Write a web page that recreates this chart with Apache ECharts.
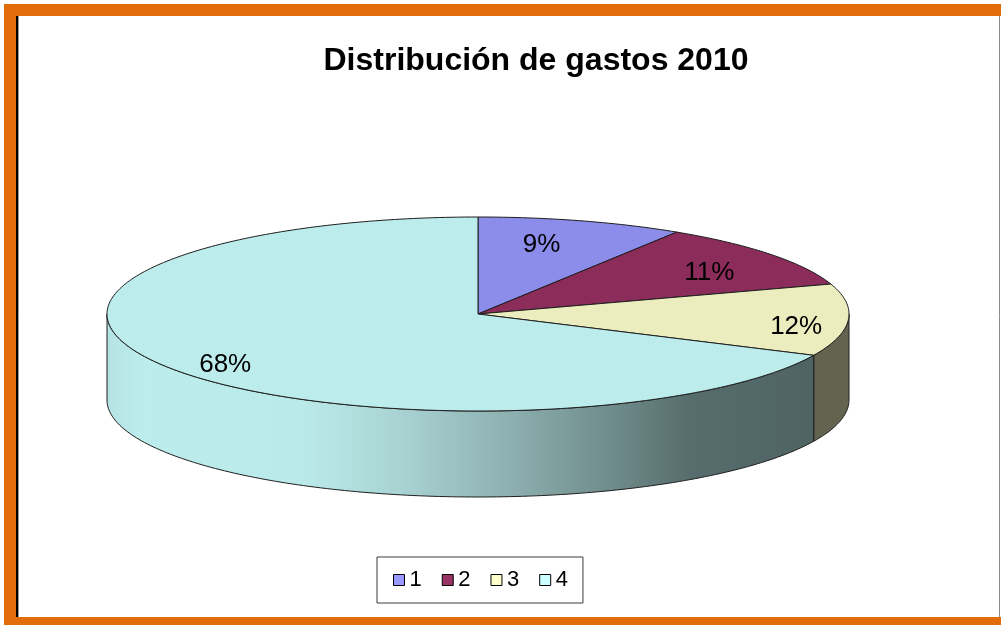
<!DOCTYPE html>
<html>
<head>
<meta charset="utf-8">
<script src="https://cdn.jsdelivr.net/npm/echarts@6/dist/echarts.min.js"></script>
<style>
html, body { margin: 0; padding: 0; background: #fff; }
#chart { width: 1001px; height: 625px; }
</style>
</head>
<body>
<div id="chart"></div>
<script>
// datos del grafico
var categorias = ['1', '2', '3', '4'];
var gastos = [9, 11, 12, 68];
var titulo = 'Distribución de gastos 2010';

// colores (cara superior y leyenda)
var coloresCara = ['#8c8ceb', '#8b2c5a', '#ecedbf', '#bdecec'];
var coloresLeyenda = ['#9999ff', '#993366', '#ffffcc', '#ccffff'];

// geometria de la torta 3D
var CX = 478, CY = 314, RX = 371, RY = 97, ALTO = 86;
var FUENTE = '"Liberation Sans", Arial, sans-serif';

var total = gastos.reduce(function(a, b) { return a + b; }, 0);
var angulos = [];
var acum = 0;
for (var k = 0; k < gastos.length; k++) {
    var a0 = acum / total * Math.PI * 2;
    acum += gastos[k];
    angulos.push([a0, acum / total * Math.PI * 2]);
}

function punto(th, dy) {
    return [CX + RX * Math.sin(th), CY - RY * Math.cos(th) + (dy || 0)];
}

function arco(a, b, dy) {
    var pts = [];
    var n = Math.max(2, Math.ceil((b - a) / (Math.PI / 180)));
    for (var i = 0; i <= n; i++) {
        pts.push(punto(a + (b - a) * i / n, dy));
    }
    return pts;
}

function sombra(hex, f) {
    var r = parseInt(hex.substr(1, 2), 16), g = parseInt(hex.substr(3, 2), 16), b = parseInt(hex.substr(5, 2), 16);
    return 'rgb(' + Math.round(r * f) + ',' + Math.round(g * f) + ',' + Math.round(b * f) + ')';
}

// sombreado de la pared lateral segun x (claro a la izquierda, oscuro a la derecha)
var pasosSombra = [[0, 0.96], [0.045, 1.0], [0.26, 0.99], [0.395, 0.895], [0.53, 0.76], [0.664, 0.61], [0.786, 0.46], [0.95, 0.42], [1, 0.42]];

function gradientePared(hex) {
    return {
        type: 'linear', global: true,
        x: CX - RX, y: 0, x2: CX + RX, y2: 0,
        colorStops: pasosSombra.map(function(p) { return { offset: p[0], color: sombra(hex, p[1]) }; })
    };
}

function renderPorcion(idx) {
    return function(params, api) {
        var a = angulos[idx][0], b = angulos[idx][1];
        var hijos = [];
        // pared frontal
        var wa = Math.max(a, Math.PI / 2), wb = Math.min(b, Math.PI * 1.5);
        if (wa < wb) {
            var arriba = arco(wa, wb, 0);
            var abajo = arco(wa, wb, ALTO).reverse();
            hijos.push({
                type: 'polygon',
                shape: { points: arriba.concat(abajo) },
                style: { fill: gradientePared(coloresCara[idx]), stroke: '#1e1e1e', lineWidth: 1 }
            });
        }
        // cara superior
        var pts = [[CX, CY]].concat(arco(a, b, 0));
        hijos.push({
            type: 'polygon',
            shape: { points: pts },
            style: { fill: coloresCara[idx], stroke: '#1e1e1e', lineWidth: 1 }
        });
        // etiqueta
        var m = (a + b) / 2;
        var kx = 0.52 + 0.34 * Math.abs(Math.sin(m));
        var pct = Math.round(gastos[idx] / total * 100) + '%';
        hijos.push({
            type: 'text',
            style: {
                text: pct,
                x: CX + RX * kx * Math.sin(m),
                y: CY - RY * 0.83 * Math.cos(m) + 8,
                align: 'center', verticalAlign: 'middle',
                font: '26px ' + FUENTE, fill: '#000'
            }
        });
        return { type: 'group', children: hijos };
    };
}

var series = categorias.map(function(nombre, i) {
    return {
        name: nombre,
        type: 'custom',
        coordinateSystem: 'none',
        itemStyle: { color: coloresLeyenda[i] },
        renderItem: renderPorcion(i),
        data: [gastos[i]]
    };
});

var chart = echarts.init(document.getElementById('chart'), null, { renderer: 'canvas' });

chart.setOption({
    animation: false,
    backgroundColor: '#fff',
    title: {
        text: titulo,
        left: 536,
        top: 45,
        textAlign: 'center',
        padding: 0,
        textStyle: { fontFamily: FUENTE, fontWeight: 'bold', fontSize: 32, color: '#000' }
    },
    legend: {
        left: 377,
        top: 557,
        padding: [12, 15, 12, 16],
        borderColor: '#3a3a3a',
        borderWidth: 1,
        icon: 'rect',
        itemWidth: 11,
        itemHeight: 11,
        itemGap: 20,
        selectedMode: false,
        itemStyle: { borderColor: '#000', borderWidth: 1 },
        textStyle: { fontFamily: FUENTE, fontSize: 22, color: '#000' },
        data: categorias.map(function(n, i) { return { name: n, itemStyle: { color: coloresLeyenda[i] } }; })
    },
    graphic: [
        { type: 'rect', shape: { x: 4, y: 4, width: 997, height: 12 }, style: { fill: '#e36c0a' } },
        { type: 'rect', shape: { x: 4, y: 4, width: 12, height: 621 }, style: { fill: '#e36c0a' } },
        { type: 'rect', shape: { x: 4, y: 617, width: 997, height: 8 }, style: { fill: '#e36c0a' } },
        { type: 'line', shape: { x1: 17, y1: 16, x2: 17, y2: 617 }, style: { stroke: '#000', lineWidth: 2 } },
        { type: 'line', shape: { x1: 18.5, y1: 16, x2: 18.5, y2: 617 }, style: { stroke: '#9a9a9a', lineWidth: 1 } },
        { type: 'line', shape: { x1: 999.5, y1: 16, x2: 999.5, y2: 617 }, style: { stroke: '#8a8a8a', lineWidth: 1 } }
    ],
    series: series
});
</script>
</body>
</html>
